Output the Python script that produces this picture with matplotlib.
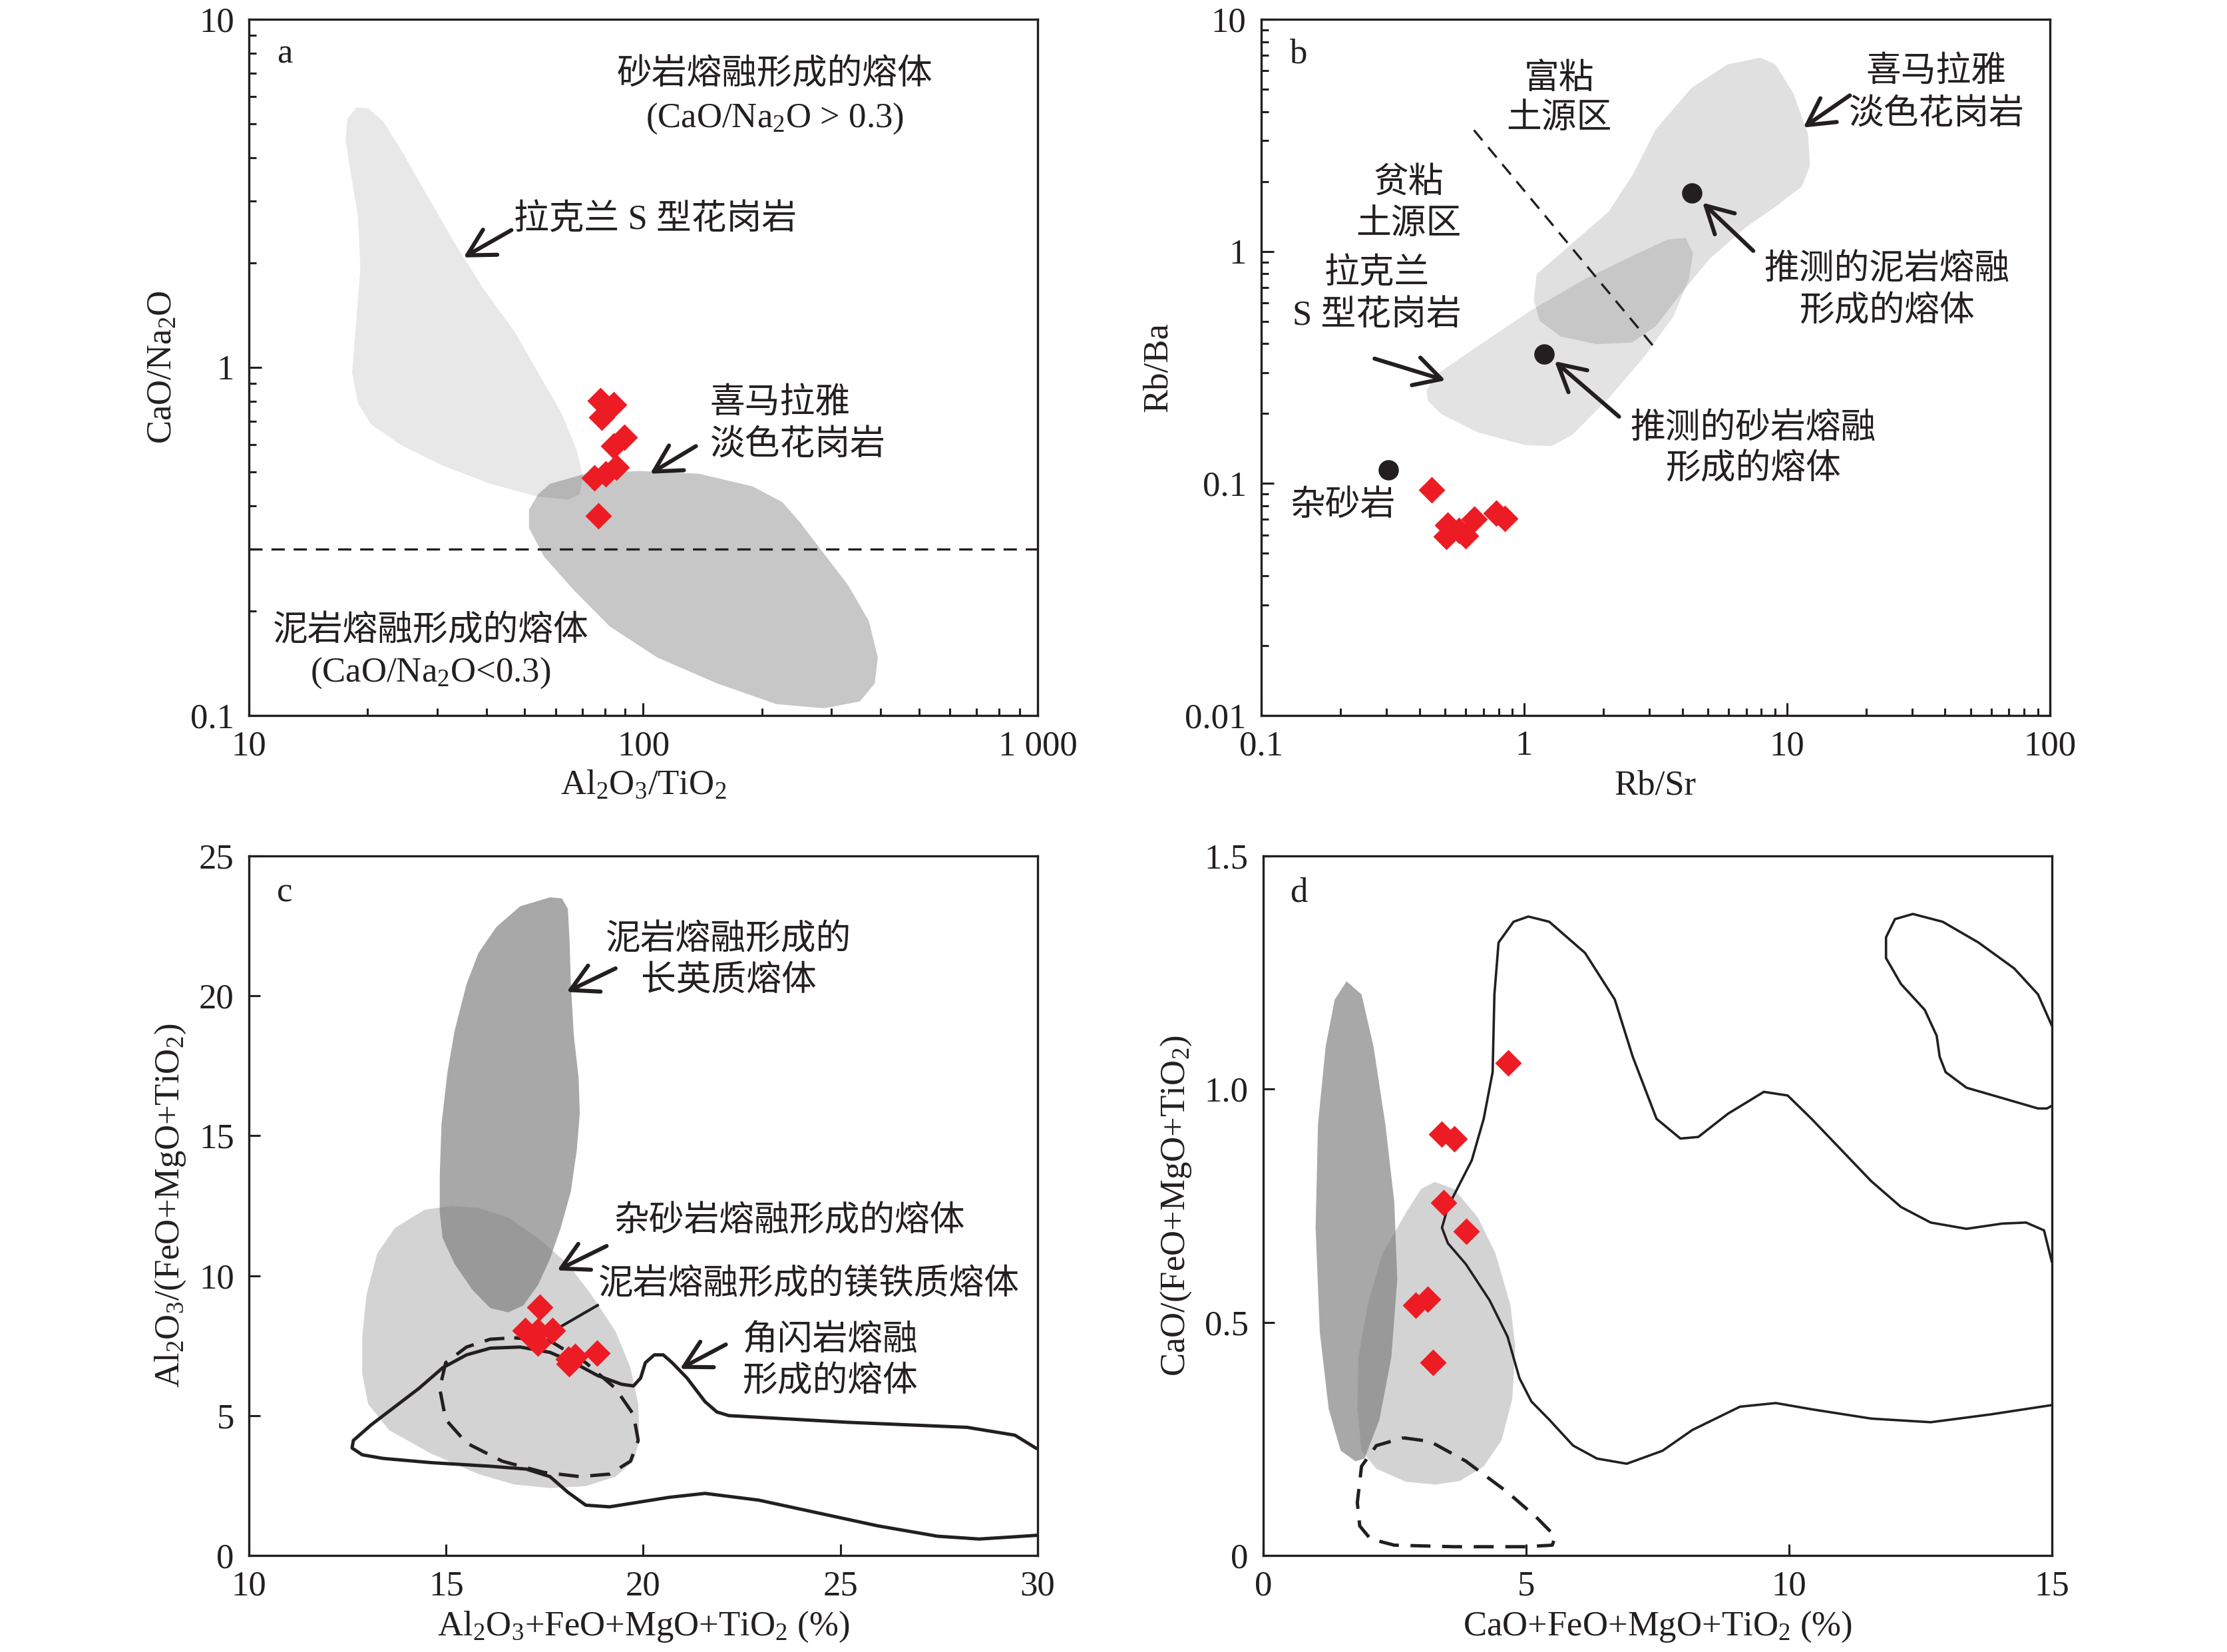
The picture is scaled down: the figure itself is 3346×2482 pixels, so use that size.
import numpy as np
import matplotlib
matplotlib.use('Agg')
import matplotlib.pyplot as plt
from matplotlib.patches import Polygon

plt.rcParams['font.family'] = ['Liberation Serif', 'Noto Sans CJK SC']
plt.rcParams['mathtext.fontset'] = 'custom'
plt.rcParams['mathtext.rm'] = 'Liberation Serif'
plt.rcParams['mathtext.it'] = 'Liberation Serif:italic'
plt.rcParams['mathtext.bf'] = 'Liberation Serif:bold'
plt.rcParams['mathtext.default'] = 'rm'

INK = '#231f20'
RED = '#ed1c24'
FS = 19

# ---- panel a : CaO/Na2O vs Al2O3/TiO2 ----
a_samples_x = [77.9, 84.0, 78.5, 89.6, 84.2, 85.4, 80.3, 75.2, 77.0]
a_samples_y = [0.801, 0.782, 0.720, 0.631, 0.595, 0.517, 0.495, 0.481, 0.375]
a_lachlan_x = [18.71, 17.76, 17.58, 18.07, 18.91, 19.17, 18.71, 18.26, 18.91, 20.42, 24.3, 31.0, 40.9,
               54.1, 64.4, 69.0, 70.3, 67.8, 62.2, 54.1, 47.1, 39.5, 33.2, 27.9, 24.3, 21.9, 20.06]
a_lachlan_y = [5.58, 5.18, 4.52, 3.68, 2.70, 1.92, 1.36, 0.966, 0.787, 0.686, 0.598, 0.522, 0.463,
               0.425, 0.417, 0.432, 0.487, 0.578, 0.735, 0.966, 1.27, 1.67, 2.28, 3.21, 4.22, 5.09, 5.55]
a_himal_x = [58.0, 71.5, 97.8, 138.5, 189.4, 225.4, 250.2, 287.6, 330.6, 373.5, 393.4, 386.6, 354.4,
             287.6, 217.7, 153.7, 108.5, 82.2, 66.7, 56.0, 51.3, 51.3, 54.1]
a_himal_y = [0.463, 0.495, 0.504, 0.495, 0.455, 0.410, 0.358, 0.291, 0.237, 0.1866, 0.1468, 0.1237, 0.1097,
             0.1049, 0.1078, 0.1237, 0.1468, 0.1803, 0.229, 0.286, 0.346, 0.390, 0.432]
a_divide = 0.3
a_arrows = [((46.3, 2.48), (35.0, 2.07)), ((136, 0.594), (104.1, 0.495))]

# ---- panel b : Rb/Ba vs Rb/Sr ----
b_samples_x = [0.4446, 0.5115, 0.5065, 0.5977, 0.6457, 0.564, 0.784, 0.845]
b_samples_y = [0.0940, 0.0660, 0.0591, 0.0593, 0.0702, 0.0626, 0.0746, 0.0705]
b_ref_x = [0.305, 1.19, 4.35]
b_ref_y = [0.114, 0.362, 1.79]
b_line_x = [0.645, 3.18]
b_line_y = [3.33, 0.378]
b_himal_x = [1.118, 1.529, 2.093, 2.579, 3.178, 4.347, 5.95, 7.93, 9.04, 10.57, 12.04, 12.24, 11.43,
             9.04, 6.96, 5.09, 3.916, 3.178, 2.579, 1.885, 1.377, 1.147, 1.089]
b_himal_y = [0.798, 1.086, 1.477, 2.118, 3.364, 5.075, 6.395, 6.836, 6.395, 4.82, 3.196, 2.347, 1.911,
             1.556, 1.267, 0.930, 0.649, 0.477, 0.405, 0.398, 0.430, 0.502, 0.617]
b_lachlan_x = [0.425, 0.46, 0.663, 1.061, 1.698, 2.579, 3.528, 4.127, 4.394, 4.237, 3.718, 2.862, 2.093,
               1.529, 1.274, 1.007, 0.663, 0.4845, 0.4318]
b_lachlan_y = [0.251, 0.2927, 0.3885, 0.5567, 0.758, 0.955, 1.126, 1.143, 0.980, 0.758, 0.529, 0.3504, 0.2323,
               0.1621, 0.1448, 0.1463, 0.1663, 0.199, 0.2264]
b_arrows = [((0.27, 0.345), (0.5024, 0.278)), ((17.36, 4.70), (11.55, 3.416)),
            ((7.45, 1.005), (4.777, 1.621)), ((2.299, 0.194), (1.307, 0.3363))]

# ---- panel c : Al2O3/(FeO+MgO+TiO2) vs Al2O3+FeO+MgO+TiO2 ----
c_samples_x = [17.37, 17.0, 17.33, 17.69, 17.33, 18.11, 18.27, 18.1, 18.82]
c_samples_y = [8.87, 8.04, 8.02, 8.04, 7.6, 6.85, 7.12, 7.02, 7.24]
c_felsic_x = [17.634, 17.937, 18.088, 18.133, 18.163, 18.239, 18.36, 18.39, 18.314, 18.163, 17.906, 17.634,
              17.332, 16.954, 16.576, 16.122, 15.669, 15.215, 14.913, 14.838, 14.838, 14.883, 15.034,
              15.215, 15.518, 15.82, 16.274, 16.878]
c_felsic_y = [23.52, 23.48, 23.11, 21.91, 20.42, 18.57, 17.09, 15.79, 14.49, 13.01, 11.71, 10.60,
              9.67, 8.93, 8.69, 8.84, 9.49, 10.42, 11.34, 12.27, 13.57, 15.42, 17.27,
              18.75, 20.42, 21.53, 22.46, 23.20]
c_grey_x = [15.14, 15.82, 16.576, 17.332, 18.088, 18.692, 19.297, 19.675, 19.872, 19.902, 19.751, 19.297,
            18.541, 17.634, 16.727, 15.82, 14.611, 13.553, 13.023, 12.872, 12.872, 12.978, 13.25, 13.704, 14.46]
c_grey_y = [12.49, 12.42, 12.08, 11.34, 10.42, 9.30, 8.01, 6.71, 5.41, 4.11, 3.37, 2.82,
            2.48, 2.41, 2.54, 2.91, 3.65, 4.48, 5.41, 6.52, 7.82, 9.30, 10.79, 11.71, 12.36]
c_mafic_x = [16.727, 17.634, 18.541, 19.297, 19.751, 19.872, 19.675, 19.146, 18.39, 17.483, 16.425,
             15.518, 14.989, 14.838, 14.989, 15.518, 16.122, 16.727]
c_mafic_y = [7.78, 7.67, 6.89, 5.97, 5.04, 4.11, 3.37, 2.91, 2.82, 2.97, 3.37,
             4.02, 4.86, 5.97, 6.89, 7.45, 7.73, 7.78]
c_amph_x = [29.955, 29.426, 28.216, 25.193, 22.169, 21.867, 21.565, 21.111, 20.733, 20.507, 20.28, 20.053,
            19.932, 19.751, 19.448, 18.844, 18.239, 17.634, 16.878, 16.122, 15.518, 14.913, 14.308,
            13.704, 13.099, 12.646, 12.615, 12.872, 13.401, 14.611, 16.122, 17.029, 17.634, 18.088,
            18.541, 19.146, 20.658, 21.565, 22.925, 24.437, 25.949, 27.461, 28.519, 29.426, 29.955]
c_amph_y = [3.84, 4.30, 4.58, 4.76, 5.00, 5.13, 5.50, 6.34, 6.89, 7.17, 7.17, 6.89,
            6.34, 6.06, 6.12, 6.43, 6.89, 7.26, 7.45, 7.41, 7.17, 6.71, 5.97,
            5.32, 4.67, 4.11, 3.84, 3.60, 3.47, 3.32, 3.19, 3.09, 2.82, 2.26,
            1.80, 1.74, 2.08, 2.22, 1.98, 1.52, 1.06, 0.69, 0.59, 0.67, 0.72]
c_leader_x = [18.84, 17.92]
c_leader_y = [8.94, 8.19]
c_arrows = [((19.297, 20.98), (18.057, 20.14)), ((19.07, 11.06), (17.816, 10.19)),
            ((22.094, 7.54), (20.93, 6.67))]

# ---- panel d : CaO/(FeO+MgO+TiO2) vs CaO+FeO+MgO+TiO2 ----
d_samples_x = [4.667, 3.392, 3.633, 3.434, 3.857, 2.895, 3.135, 3.232]
d_samples_y = [1.0557, 0.9034, 0.8939, 0.756, 0.695, 0.537, 0.550, 0.4143]
d_felsic_x = [1.587, 1.871, 2.098, 2.324, 2.494, 2.551, 2.438, 2.211, 1.927, 1.757, 1.474, 1.247,
              1.077, 0.998, 1.043, 1.190, 1.361]
d_felsic_y = [1.231, 1.203, 1.092, 0.925, 0.758, 0.592, 0.425, 0.291, 0.208, 0.202, 0.225, 0.314,
              0.480, 0.703, 0.925, 1.092, 1.192]
d_grey_x = [3.265, 3.628, 4.082, 4.422, 4.705, 4.796, 4.739, 4.535, 4.195, 3.741, 3.288, 2.721,
            2.154, 1.871, 1.791, 1.814, 1.984, 2.268, 2.721, 3.005]
d_grey_y = [0.801, 0.786, 0.725, 0.647, 0.536, 0.447, 0.336, 0.247, 0.191, 0.160, 0.152, 0.158,
            0.186, 0.225, 0.314, 0.425, 0.536, 0.647, 0.736, 0.786]
d_mafic_x = [2.664, 3.175, 3.855, 4.649, 5.215, 5.556, 5.499, 4.989, 3.628, 2.494, 2.041, 1.837,
             1.791, 1.871, 2.154, 2.664]
d_mafic_y = [0.2524, 0.2446, 0.2024, 0.1357, 0.080, 0.0411, 0.0222, 0.0189, 0.0189, 0.0222, 0.0356, 0.0634,
             0.1134, 0.1913, 0.2357, 0.2524]
d_amph1_x = [15.0, 13.832, 12.698, 11.565, 10.431, 9.751, 9.070, 8.163, 7.596, 6.916, 6.349, 5.896,
             5.442, 5.102, 4.875, 4.649, 4.308, 3.855, 3.515, 3.401, 3.515, 3.741, 3.968, 4.195,
             4.365, 4.399, 4.478, 4.762, 5.045, 5.442, 6.122, 6.689, 7.029, 7.483, 7.937, 8.277,
             8.844, 9.524, 9.977, 10.431, 10.998, 11.565, 12.132, 12.698, 13.379, 14.059, 14.512,
             14.853, 15.0]
d_amph1_y = [0.3225, 0.3025, 0.2858, 0.2936, 0.3136, 0.3269, 0.3191, 0.2691, 0.2246, 0.1968, 0.2079, 0.2357,
             0.2913, 0.3303, 0.3803, 0.4693, 0.5471, 0.6249, 0.6694, 0.7028, 0.7473, 0.7973, 0.8473, 0.9363,
             1.0364, 1.2032, 1.3143, 1.3588, 1.3700, 1.3588, 1.2921, 1.1920, 1.0697, 0.9363, 0.8940, 0.8974,
             0.9474, 0.9941, 0.9863, 0.9363, 0.8696, 0.8028, 0.7473, 0.7139, 0.7005, 0.7117, 0.7139,
             0.6972, 0.6305]
d_amph2_x = [15.0, 14.739, 14.286, 13.605, 12.925, 12.358, 12.018, 11.848, 11.848, 12.132, 12.585, 12.812,
             12.868, 12.982, 13.379, 14.059, 14.739, 14.909, 15.0]
d_amph2_y = [1.1364, 1.2031, 1.2588, 1.3144, 1.3588, 1.3755, 1.3644, 1.3255, 1.2810, 1.2254, 1.1698, 1.1142,
             1.0697, 1.0364, 1.0030, 0.9808, 0.9585, 0.9585, 0.9641]


def shape(ax, xs, ys, **kw):
    ax.add_patch(Polygon(np.column_stack([xs, ys]), closed=True, edgecolor='none', **kw))


def arrow(ax, tail, head):
    ax.annotate('', xy=head, xytext=tail,
                arrowprops=dict(arrowstyle='->,head_length=0.55,head_width=0.3', lw=2.2, color=INK,
                                mutation_scale=26, shrinkA=0, shrinkB=0))


def label(ax, x, y, s, ha='center'):
    ax.text(x, y, s, transform=ax.transAxes, ha=ha, va='center', fontsize=FS, color=INK)


def style(ax):
    for sp in ax.spines.values():
        sp.set_linewidth(1.2)
        sp.set_color(INK)
    ax.tick_params(which='both', direction='in', top=False, right=False, colors=INK,
                   labelsize=FS, width=1.1)
    ax.tick_params(which='major', length=7, pad=8)
    ax.tick_params(which='minor', length=4)


fig = plt.figure(figsize=(16.73, 12.41), dpi=200)
ax_a = fig.add_axes([0.1118, 0.5669, 0.3541, 0.4214])
ax_b = fig.add_axes([0.5663, 0.5669, 0.3541, 0.4214])
ax_c = fig.add_axes([0.1118, 0.0584, 0.3541, 0.4235])
ax_d = fig.add_axes([0.5672, 0.0584, 0.3541, 0.4235])

# a
ax = ax_a
ax.set_xscale('log')
ax.set_yscale('log')
ax.set_xlim(10, 1000)
ax.set_ylim(0.1, 10)
shape(ax, a_lachlan_x, a_lachlan_y, facecolor='k', alpha=0.09)
shape(ax, a_himal_x, a_himal_y, facecolor='k', alpha=0.22)
ax.axhline(a_divide, color=INK, lw=1.2, ls=(0, (6, 4)))
ax.plot(a_samples_x, a_samples_y, 'D', ms=10, color=RED, mec='none')
for t, h in a_arrows:
    arrow(ax, t, h)
ax.set_xticks([10, 100, 1000], ['10', '100', '1 000'])
ax.set_yticks([0.1, 1, 10], ['0.1', '1', '10'])
ax.xaxis.set_minor_formatter(plt.NullFormatter())
ax.yaxis.set_minor_formatter(plt.NullFormatter())
ax.set_xlabel(r'Al$_2$O$_3$/TiO$_2$', fontsize=FS, color=INK, labelpad=4)
ax.set_ylabel(r'CaO/Na$_2$O', fontsize=FS, color=INK, labelpad=6)
style(ax)
label(ax, 0.045, 0.95, 'a')
label(ax, 0.667, 0.920, '砂岩熔融形成的熔体')
label(ax, 0.667, 0.857, r'(CaO/Na$_2$O > 0.3)')
label(ax, 0.336, 0.712, '拉克兰 S 型花岗岩', ha='left')
label(ax, 0.584, 0.448, '喜马拉雅', ha='left')
label(ax, 0.584, 0.388, '淡色花岗岩', ha='left')
label(ax, 0.2305, 0.1205, '泥岩熔融形成的熔体')
label(ax, 0.2305, 0.061, r'(CaO/Na$_2$O<0.3)')

# b
ax = ax_b
ax.set_xscale('log')
ax.set_yscale('log')
ax.set_xlim(0.1, 100)
ax.set_ylim(0.01, 10)
shape(ax, b_himal_x, b_himal_y, facecolor='k', alpha=0.12)
shape(ax, b_lachlan_x, b_lachlan_y, facecolor='k', alpha=0.11)
ax.plot(b_line_x, b_line_y, color=INK, lw=1.2, ls=(0, (6, 4)))
ax.plot(b_ref_x, b_ref_y, 'o', ms=11, color=INK, mec='none')
ax.plot(b_samples_x, b_samples_y, 'D', ms=10, color=RED, mec='none')
for t, h in b_arrows:
    arrow(ax, t, h)
ax.set_xticks([0.1, 1, 10, 100], ['0.1', '1', '10', '100'])
ax.set_yticks([0.01, 0.1, 1, 10], ['0.01', '0.1', '1', '10'])
ax.xaxis.set_minor_formatter(plt.NullFormatter())
ax.yaxis.set_minor_formatter(plt.NullFormatter())
ax.set_xlabel('Rb/Sr', fontsize=FS, color=INK, labelpad=4)
ax.set_ylabel('Rb/Ba', fontsize=FS, color=INK, labelpad=6)
style(ax)
label(ax, 0.047, 0.95, 'b')
label(ax, 0.378, 0.913, '富粘')
label(ax, 0.378, 0.857, '土源区')
label(ax, 0.187, 0.764, '贫粘')
label(ax, 0.187, 0.705, '土源区')
label(ax, 0.147, 0.634, '拉克兰')
label(ax, 0.147, 0.574, 'S 型花岗岩')
label(ax, 0.856, 0.924, '喜马拉雅')
label(ax, 0.856, 0.863, '淡色花岗岩')
label(ax, 0.7935, 0.640, '推测的泥岩熔融')
label(ax, 0.7935, 0.580, '形成的熔体')
label(ax, 0.624, 0.412, '推测的砂岩熔融')
label(ax, 0.624, 0.353, '形成的熔体')
label(ax, 0.1036, 0.3006, '杂砂岩')

# c
ax = ax_c
ax.set_xlim(10, 30)
ax.set_ylim(0, 25)
shape(ax, c_grey_x, c_grey_y, facecolor='#d3d3d3')
shape(ax, c_felsic_x, c_felsic_y, facecolor='#7b7b7b', alpha=0.66)
ax.plot(c_mafic_x, c_mafic_y, color=INK, lw=1.8, ls=(0, (6, 3.5)))
ax.plot(c_amph_x, c_amph_y, color=INK, lw=1.8)
ax.plot(c_leader_x, c_leader_y, color=INK, lw=1.5)
ax.plot(c_samples_x, c_samples_y, 'D', ms=10, color=RED, mec='none')
for t, h in c_arrows:
    arrow(ax, t, h)
ax.set_xticks([10, 15, 20, 25, 30], ['10', '15', '20', '25', '30'])
ax.set_yticks([0, 5, 10, 15, 20, 25], ['0', '5', '10', '15', '20', '25'])
ax.set_xlabel(r'Al$_2$O$_3$+FeO+MgO+TiO$_2$ (%)', fontsize=FS, color=INK, labelpad=4)
ax.set_ylabel(r'Al$_2$O$_3$/(FeO+MgO+TiO$_2$)', fontsize=FS, color=INK, labelpad=6)
style(ax)
ax.tick_params(which='major', length=6)
label(ax, 0.045, 0.947, 'c')
label(ax, 0.608, 0.880, '泥岩熔融形成的')
label(ax, 0.608, 0.8206, '长英质熔体')
label(ax, 0.6856, 0.4774, '杂砂岩熔融形成的熔体')
label(ax, 0.7105, 0.387, '泥岩熔融形成的镁铁质熔体')
label(ax, 0.625, 0.307, '角闪岩熔融', ha='left')
label(ax, 0.625, 0.2476, '形成的熔体', ha='left')

# d
ax = ax_d
ax.set_xlim(0, 15)
ax.set_ylim(0, 1.5)
shape(ax, d_grey_x, d_grey_y, facecolor='#d3d3d3')
shape(ax, d_felsic_x, d_felsic_y, facecolor='#7b7b7b', alpha=0.66)
ax.plot(d_mafic_x, d_mafic_y, color=INK, lw=1.8, ls=(0, (6, 3.5)))
ax.plot(d_amph1_x, d_amph1_y, color=INK, lw=1.3)
ax.plot(d_amph2_x, d_amph2_y, color=INK, lw=1.3)
ax.plot(d_samples_x, d_samples_y, 'D', ms=10, color=RED, mec='none')
ax.set_xticks([0, 5, 10, 15], ['0', '5', '10', '15'])
ax.set_yticks([0, 0.5, 1.0, 1.5], ['0', '0.5', '1.0', '1.5'])
ax.set_xlabel(r'CaO+FeO+MgO+TiO$_2$ (%)', fontsize=FS, color=INK, labelpad=4)
ax.set_ylabel(r'CaO/(FeO+MgO+TiO$_2$)', fontsize=FS, color=INK, labelpad=6)
style(ax)
ax.tick_params(which='major', length=6)
label(ax, 0.045, 0.947, 'd')

fig.savefig('out.png', dpi=200)
